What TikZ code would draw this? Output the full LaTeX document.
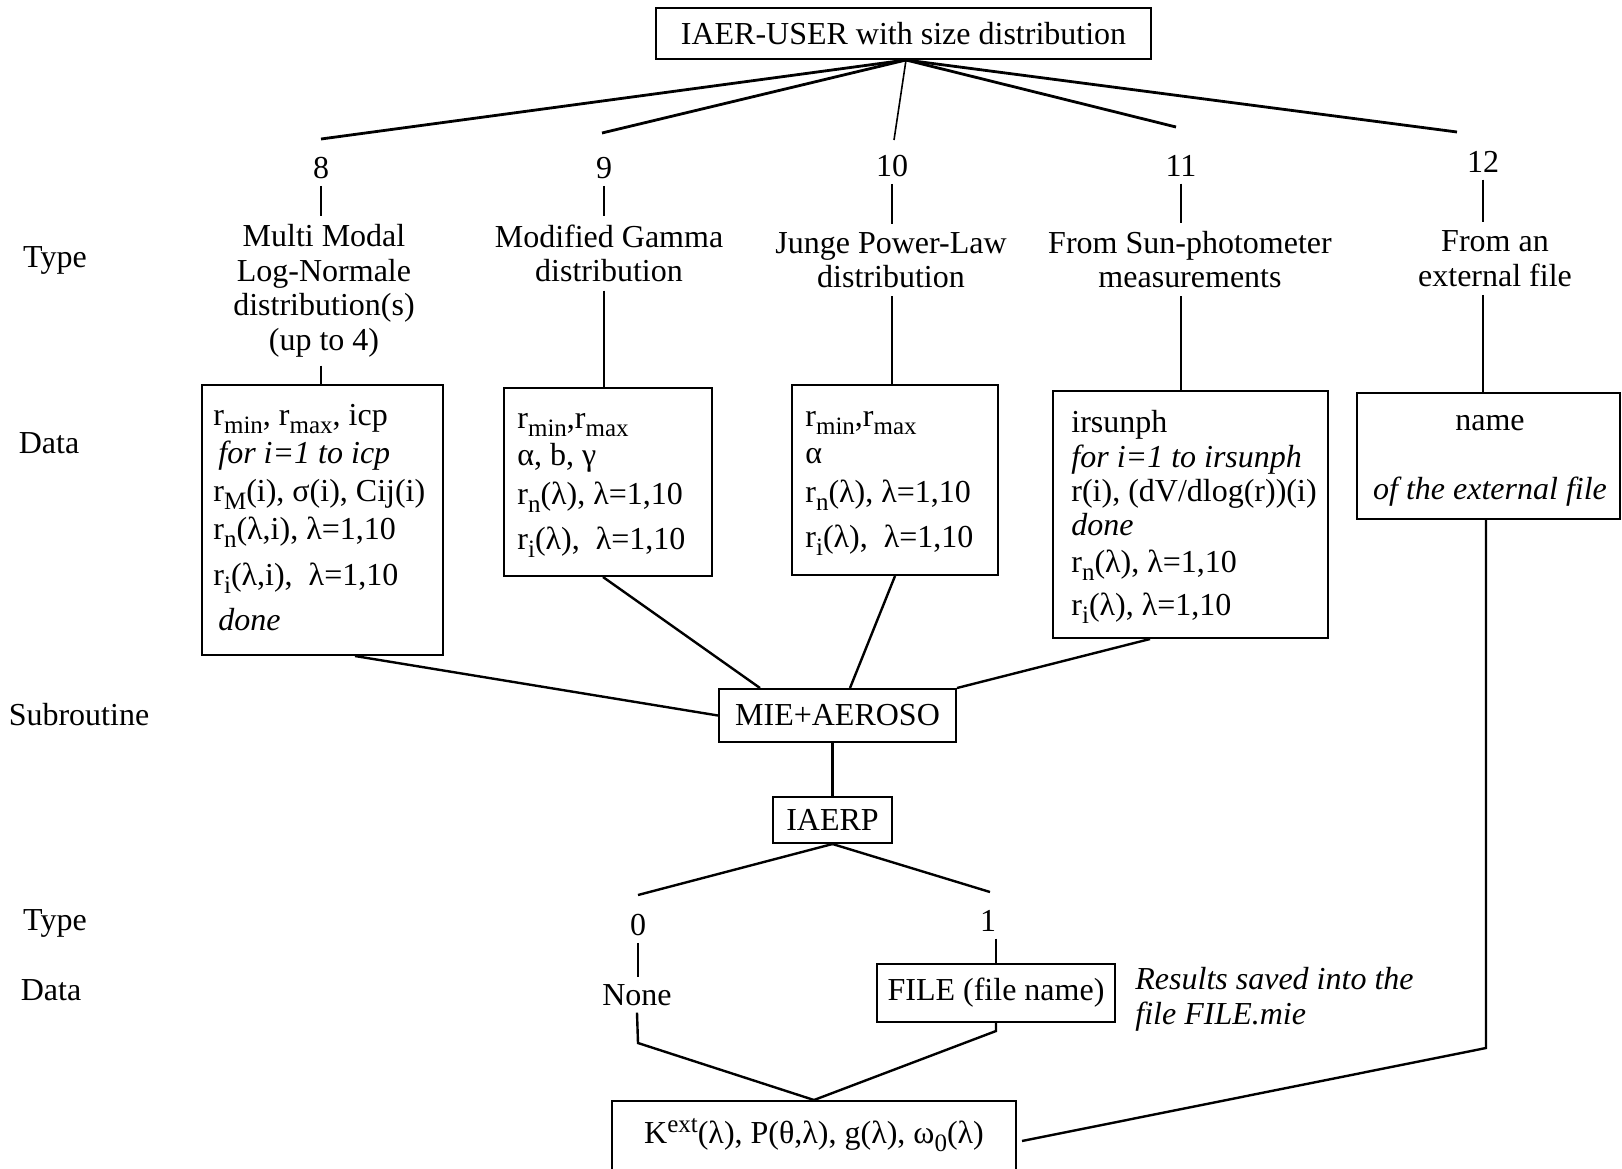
\documentclass[tikz,border=0pt]{standalone}
\usepackage{fontspec}
\setmainfont{Liberation Serif}
\newcommand{\dn}[1]{\raisebox{-4pt}{\fontsize{12.5}{12.5}\selectfont #1}}
\newcommand{\upx}[1]{\raisebox{5.5pt}{\fontsize{12.5}{12.5}\selectfont #1}}
\begin{document}
\begin{tikzpicture}[x=0.5pt,y=-0.5pt,
  every node/.style={font=\fontsize{16}{17.25}\selectfont},
  boxn/.style 2 args={draw, line width=1pt, minimum width=#1*0.5pt, minimum height=#2*0.5pt, inner sep=0pt},
  ln/.style={anchor=base west, inner sep=0pt},
  lbl/.style={align=center, inner sep=4pt},
  conn/.style={line width=1.2pt},
  tick/.style={line width=0.8pt},
  fan/.style={line width=1.4pt},
]
\useasboundingbox (0,0) rectangle (1622,1168);
\clip (0,0) rectangle (1622,1168);

% left labels
\node (lt1) at (55,260) {Type};
\node (ld1) at (49,443) {Data};
\node (lsub) at (79,715) {Subroutine};
\node (lt2) at (55,923) {Type};
\node (ld2) at (51,990) {Data};

% top
\node[boxn={495}{51}] (top) at (903.5,33.5) {IAER-USER with size distribution};

% numbers
\node (n8) at (321,168) {8};
\node (n9) at (604,168) {9};
\node (n10) at (892,166) {10};
\node (n11) at (1181,166) {11};
\node (n12) at (1483,162) {12};

\coordinate (e8) at (321,139);
\coordinate (e9) at (602,133);
\coordinate (e10) at (894,140);
\coordinate (e11) at (1176,127);
\coordinate (e12) at (1457,132);
\draw[fan] ([xshift=1.25pt]top.south) -- (e8);
\draw[fan] ([xshift=1.25pt]top.south) -- (e9);
\draw[tick] ([xshift=1.25pt]top.south) -- (e10);
\draw[fan] ([xshift=1.25pt]top.south) -- (e11);
\draw[fan] ([xshift=1.25pt]top.south) -- (e12);

% type labels
\node[lbl] (t8) at (324,291) {Multi Modal\\Log-Normale\\distribution(s)\\(up to 4)};
\node[lbl] (t9) at (609,253.5) {Modified Gamma\\distribution};
\node[lbl] (t10) at (891,260) {Junge Power-Law\\distribution};
\node[lbl] (t11) at (1190,259.5) {From Sun-photometer\\measurements};
\node[lbl] (t12) at (1495,258.5) {From an\\external file};

\foreach \k in {8,9,10,11,12}{
  \draw[tick] (n\k.south) -- (n\k.south |- t\k.north);
}

% data boxes
\node[boxn={241}{270}] (b8) at (322.5,520) {};
\node[boxn={208}{188}] (b9) at (608,482) {};
\node[boxn={206}{190}] (b10) at (895,480) {};
\node[boxn={275}{247}] (b11) at (1190.5,514.5) {};
\node[boxn={263}{126}] (b12) at (1488.5,456) {};

\foreach \k in {8,9,10,11,12}{
  \draw[conn] (n\k.south |- t\k.south) -- (n\k.south |- b\k.north);
}

% box 8 text
\node[ln] (b8a) at (213,425) {r\dn{min}, r\dn{max}, icp};
\node[ln] (b8b) at (218,463) {\itshape for i=1 to icp};
\node[ln] (b8c) at (213,501) {r\dn{M}(i), σ(i), Cij(i)};
\node[ln] (b8d) at (213,539) {r\dn{n}(λ,i), λ=1,10};
\node[ln] (b8e) at (213,585) {r\dn{i}(λ,i), \ λ=1,10};
\node[ln] (b8f) at (218,630) {\itshape done};

% box 9 text
\node[ln] (b9a) at (517,428) {r\dn{min},r\dn{max}};
\node[ln] (b9b) at (517,465) {α, b, γ};
\node[ln] (b9c) at (517,504) {r\dn{n}(λ), λ=1,10};
\node[ln] (b9d) at (517,549) {r\dn{i}(λ), \ λ=1,10};

% box 10 text
\node[ln] (b10a) at (805,426) {r\dn{min},r\dn{max}};
\node[ln] (b10b) at (805,463) {α};
\node[ln] (b10c) at (805,502) {r\dn{n}(λ), λ=1,10};
\node[ln] (b10d) at (805,547) {r\dn{i}(λ), \ λ=1,10};

% box 11 text
\node[ln] (b11a) at (1071,432) {irsunph};
\node[ln] (b11b) at (1071,467) {\itshape for i=1 to irsunph};
\node[ln] (b11c) at (1071,501) {r(i), (dV/dlog(r))(i)};
\node[ln] (b11d) at (1071,535) {\itshape done};
\node[ln] (b11e) at (1071,572) {r\dn{n}(λ), λ=1,10};
\node[ln] (b11f) at (1071,615) {r\dn{i}(λ), λ=1,10};

% box 12 text
\node[anchor=base, inner sep=0pt] (b12a) at (1490,430) {name};
\node[anchor=base, inner sep=0pt] (b12b) at (1490,499) {\itshape of the external file};

% subroutine
\node[boxn={237}{53}] (mie) at (837.5,715.5) {MIE+AEROSO};
\draw[conn] ([xshift=16.25pt]b8.south) -- (mie.west);
\draw[conn] ([xshift=-2.5pt]b9.south) -- ([xshift=-38.75pt]mie.north);
\draw[conn] (b10.south) -- ([xshift=6.25pt]mie.north);
\draw[conn] ([xshift=-20.25pt]b11.south) -- (mie.north east);

\node[boxn={119}{46}] (iaerp) at (832.5,820) {IAERP};
\draw[conn] (iaerp.north |- mie.south) -- (iaerp.north);

\coordinate (e0) at (638,895);
\coordinate (e1) at (990,892);
\draw[conn] (iaerp.south) -- (e0);
\draw[conn] (iaerp.south) -- (e1);

\node (n0) at (638,925) {0};
\node (n1) at (988,921) {1};
\node (none) at (637,995) {None};
\node[boxn={238}{58}] (file) at (996,993) {FILE (file name)};
\draw[tick] (n0.south) -- (n0.south |- none.north);
\draw[tick] (file.north |- n1.south) -- (file.north);

\node[anchor=north west, align=left, inner sep=0pt, font=\fontsize{16}{17.5}\selectfont\itshape] (res) at (1135,967) {Results saved into the\\file FILE.mie};

% result box
\node[boxn={404}{80}, anchor=north] (kbox) at (814,1100) {};
\node[anchor=base, inner sep=0pt] (ktext) at (814,1143) {K\upx{ext}(λ), P(θ,λ), g(λ), ω\dn{0}(λ)};

\coordinate (j0) at (638,1043);
\draw[conn] (none.south) -- (j0) -- (kbox.north);
\draw[conn] (file.south) -- ++(0,8) -- (kbox.north);
\coordinate (j12) at (1486,1048);
\draw[conn] (b12.south -| j12) -- (j12) -- ([xshift=2.5pt]kbox.east);
\end{tikzpicture}
\end{document}
